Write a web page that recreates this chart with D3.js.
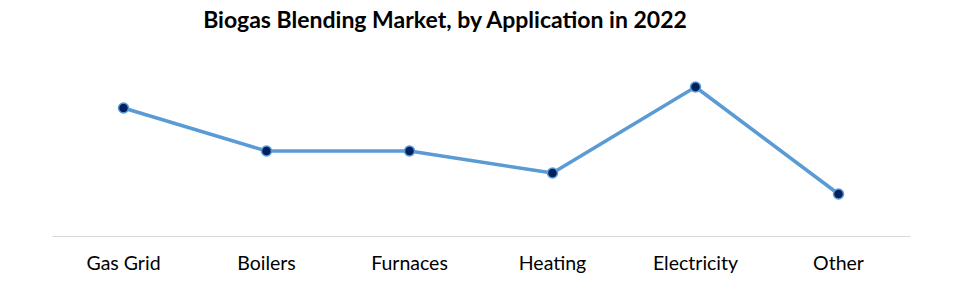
<!DOCTYPE html>
<html><head><meta charset="utf-8">
<script src="https://cdn.jsdelivr.net/npm/d3@7"></script>
<style>body{margin:0;background:#fff}svg{display:block}</style>
</head><body>
<script>
const categories = ["Gas Grid","Boilers","Furnaces","Heating","Electricity","Other"];
const values = [25.6, 17.0, 17.0, 12.6, 29.8, 8.4];
const title = "Biogas Blending Market, by Application in 2022";

const W = 968, H = 296;
const svg = d3.select("body").append("svg").attr("width", W).attr("height", H);
const x = d3.scaleBand().domain(categories).range([52, 910]);
const y = d3.scaleLinear().domain([0, 30]).range([236, 86]);

svg.append("text").attr("x", 445).attr("y", 28).attr("text-anchor", "middle")
  .attr("font-family", "Lato, 'Open Sans', sans-serif").attr("font-weight", "bold")
  .attr("font-size", 23).attr("fill", "#000").text(title);

const ax = svg.append("g").attr("transform", "translate(0,236)")
  .call(d3.axisBottom(x).tickSize(0).tickPadding(20));
ax.select(".domain").attr("stroke", "#d9d9d9").attr("stroke-width", 1);
ax.selectAll("text").attr("font-family", "Lato, 'Open Sans', sans-serif")
  .attr("font-size", 19.5).attr("fill", "#000");

const cx = d => x(d) + x.bandwidth() / 2;
const data = categories.map((c, i) => ({c, v: values[i]}));
svg.append("path").datum(data)
  .attr("d", d3.line().x(d => cx(d.c)).y(d => y(d.v)))
  .attr("fill", "none").attr("stroke", "#5b9bd5").attr("stroke-width", 3.5)
  .attr("stroke-linejoin", "round");
svg.selectAll("circle").data(data).join("circle")
  .attr("cx", d => cx(d.c)).attr("cy", d => y(d.v)).attr("r", 5)
  .attr("fill", "#002060").attr("stroke", "#5b9bd5").attr("stroke-width", 1.5);
</script>
</body></html>
